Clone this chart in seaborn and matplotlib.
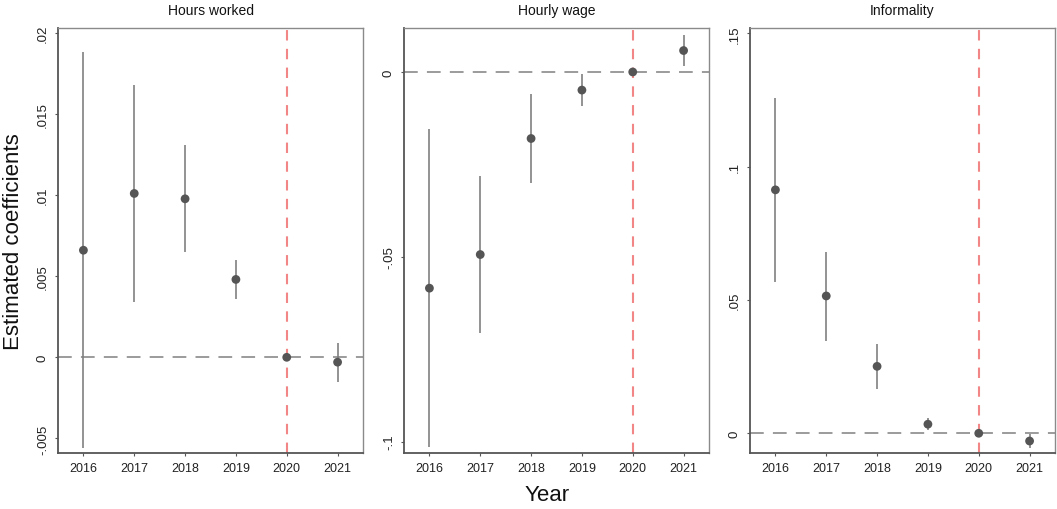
import numpy as np
import pandas as pd
import matplotlib
matplotlib.use("Agg")
import matplotlib.pyplot as plt
import seaborn as sns

years = [2016, 2017, 2018, 2019, 2020, 2021]

hours_coef = [0.0066, 0.0101, 0.00977, 0.0048, 0.0, -0.0003]
hours_lo = [-0.0056, 0.0034, 0.0065, 0.0036, 0.0, -0.0015]
hours_hi = [0.0188, 0.0168, 0.0131, 0.0060, 0.0, 0.00086]

wage_coef = [-0.0585, -0.0494, -0.0180, -0.0049, 0.0, 0.0058]
wage_lo = [-0.1016, -0.0707, -0.0300, -0.0093, 0.0, 0.0016]
wage_hi = [-0.0153, -0.0281, -0.0060, -0.0006, 0.0, 0.0101]

inf_coef = [0.0913, 0.0515, 0.0251, 0.0034, 0.0, -0.0029]
inf_lo = [0.0569, 0.0347, 0.0165, 0.0011, 0.0, -0.0054]
inf_hi = [0.1257, 0.0681, 0.0336, 0.0056, 0.0, -0.0004]

titles = ["Hours worked", "Hourly wage", "Informality"]
yticks = [[-0.005, 0, 0.005, 0.01, 0.015, 0.02],
          [-0.1, -0.05, 0],
          [0, 0.05, 0.1, 0.15]]
ytick_labels = [["-.005", "0", ".005", ".01", ".015", ".02"],
                ["-.1", "-.05", "0"],
                ["0", ".05", ".1", ".15"]]
ylims = [(-0.0059, 0.0203), (-0.1031, 0.0119), (-0.0074, 0.152)]
event_year = 2020

sns.set_theme(style="white")
plt.rcParams['font.family'] = ['Liberation Sans', 'DejaVu Sans']

fig = plt.figure(figsize=(10.57, 5.10), dpi=100)
lefts = [58, 404, 750]
W, H = 1057, 510
series = [(hours_coef, hours_lo, hours_hi),
          (wage_coef, wage_lo, wage_hi),
          (inf_coef, inf_lo, inf_hi)]

for i, (coef, lo, hi) in enumerate(series):
    ax = fig.add_axes([lefts[i] / W, (H - 454) / H, 305 / W, 425 / H])
    df = pd.DataFrame({"year": years, "coef": coef, "lo": lo, "hi": hi})
    ax.axhline(0, color="#808080", lw=1.1, dashes=(9, 6), zorder=1)
    ax.axvline(event_year, color="#f28585", lw=1.5, dashes=(5, 4), zorder=1)
    ax.vlines(df["year"], df["lo"], df["hi"], color="#808080", lw=1.2, zorder=2)
    sns.scatterplot(data=df, x="year", y="coef", ax=ax, color="#555555",
                    s=40, edgecolor="none", zorder=3)
    ax.set_xlim(2015.5, 2021.5)
    ax.set_ylim(*ylims[i])
    ax.set_xticks(years)
    ax.set_xticklabels([str(y) for y in years], fontsize=9, color="#222222")
    ax.set_yticks(yticks[i])
    ax.set_yticklabels(ytick_labels[i], rotation=90, va="center",
                       fontsize=9.5, color="#222222")
    ax.tick_params(axis="both", which="major", length=2.5, width=0.8,
                   color="#555555", left=True, bottom=True, pad=4)
    ax.set_xlabel("")
    ax.set_ylabel("")
    ax.set_title(titles[i], fontsize=10, color="#111111", pad=10)
    for name, s in ax.spines.items():
        if name in ("left", "bottom"):
            s.set_color("#555555")
            s.set_linewidth(1.3)
        else:
            s.set_color("#8a8a8a")
            s.set_linewidth(1.0)

fig.text(14 / W, 1 - 242 / H, "Estimated coefficients", rotation=90,
         ha="center", va="center", fontsize=16, color="#111111")
fig.text(547 / W, 1 - 496 / H, "Year", ha="center", va="center",
         fontsize=16, color="#111111")

fig.savefig("out.png", dpi=100)
